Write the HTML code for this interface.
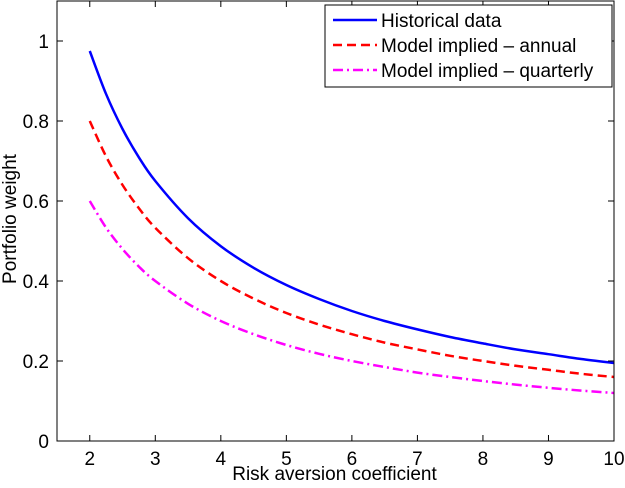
<!DOCTYPE html>
<html><head><meta charset="utf-8"><style>
body{margin:0;background:#fff;}
svg text{font-family:"Liberation Sans",sans-serif;}
</style></head><body>
<svg id="chart" width="625" height="483" xmlns="http://www.w3.org/2000/svg">
<rect x="0" y="0" width="625" height="483" fill="#fff"/>
<g id="plot"></g>
<g id="axes"></g>
</svg>
<script>
const gammas = [2,2.25,2.5,2.75,3,3.5,4,4.5,5,5.5,6,6.5,7,7.5,8,8.5,9,9.5,10];
const historical = [0.975,0.867,0.78,0.709,0.65,0.557,0.487,0.433,0.39,0.355,0.325,0.3,0.279,0.26,0.244,0.229,0.217,0.205,0.195];
const annual = [0.80,0.711,0.64,0.582,0.533,0.457,0.40,0.356,0.32,0.291,0.267,0.246,0.229,0.213,0.20,0.188,0.178,0.168,0.16];
const quarterly = [0.60,0.533,0.48,0.436,0.40,0.343,0.30,0.267,0.24,0.218,0.20,0.185,0.171,0.16,0.15,0.141,0.133,0.126,0.12];
const xTicks = [2,3,4,5,6,7,8,9,10];
const yTicks = [0,0.2,0.4,0.6,0.8,1];
const yTickLabels = ["0","0.2","0.4","0.6","0.8","1"];
const seriesNames = ["Historical data","Model implied \u2013 annual","Model implied \u2013 quarterly"];

const L=57,R=614,T=1,B=441,xMin=1.5,xMax=10,yMin=0,yMax=1.1;
const xs=v=>L+(v-xMin)/(xMax-xMin)*(R-L);
const ys=v=>B-(v-yMin)/(yMax-yMin)*(B-T);
const NS="http://www.w3.org/2000/svg";
const plot=document.getElementById('plot'), axes=document.getElementById('axes');
function mk(tag,attrs,parent){const e=document.createElementNS(NS,tag);for(const k in attrs)e.setAttribute(k,attrs[k]);parent.appendChild(e);return e;}
function smooth(pts){
  let d='M'+pts[0][0]+','+pts[0][1];
  for(let i=0;i<pts.length-1;i++){
    const p0=pts[Math.max(0,i-1)],p1=pts[i],p2=pts[i+1],p3=pts[Math.min(pts.length-1,i+2)];
    const c1=[p1[0]+(p2[0]-p0[0])/6,p1[1]+(p2[1]-p0[1])/6];
    const c2=[p2[0]-(p3[0]-p1[0])/6,p2[1]-(p3[1]-p1[1])/6];
    d+=' C'+c1[0]+','+c1[1]+' '+c2[0]+','+c2[1]+' '+p2[0]+','+p2[1];
  }
  return d;
}
const FS=19;
const styles=[{c:"#0000ff",d:""},{c:"#ff0000",d:"9,5"},{c:"#ff00ff",d:"10,4,2,4"}];
const data=[historical,annual,quarterly];
const lineNames=['historical-data-line','annual-model-line','quarterly-model-line'];
data.forEach((arr,i)=>{
  const p=mk('path',{d:smooth(gammas.map((g,j)=>[xs(g),ys(arr[j])])),fill:'none',stroke:styles[i].c,'stroke-width':2.5,'stroke-dasharray':styles[i].d},plot);
  
  
});
const fr=mk('rect',{x:L,y:T,width:R-L,height:B-T,fill:'none',stroke:'#000','stroke-width':1},axes);


xTicks.forEach(t=>{
  const x=xs(t);
  mk('line',{x1:x,y1:B,x2:x,y2:B-6,stroke:'#000'},axes);
  mk('line',{x1:x,y1:T,x2:x,y2:T+6,stroke:'#000'},axes);
  const tx=mk('text',{x:x,y:B+24,'text-anchor':'middle','font-size':FS},axes);
  tx.textContent=t;
  
  
});
yTicks.forEach((t,i)=>{
  const y=ys(t);
  mk('line',{x1:L,y1:y,x2:L+6,y2:y,stroke:'#000'},axes);
  mk('line',{x1:R,y1:y,x2:R-6,y2:y,stroke:'#000'},axes);
  const tx=mk('text',{x:L-8,y:y+7,'text-anchor':'end','font-size':FS},axes);
  tx.textContent=yTickLabels[i];
  
  
});
const xt=mk('text',{x:(L+R)/2-1,y:480,'text-anchor':'middle','font-size':FS},axes);
xt.textContent='Risk aversion coefficient';


const yt=mk('text',{x:0,y:0,'text-anchor':'middle','font-size':FS,transform:'translate(16,'+((T+B)/2-2)+') rotate(-90)'},axes);
yt.textContent='Portfolio weight';


const lg=mk('g',{},axes);


mk('rect',{x:325,y:5,width:287,height:82,fill:'#fff',stroke:'#000'},lg);
seriesNames.forEach((n,i)=>{
  const y=20+i*25;
  const en=mk('g',{},lg);
  
  
  mk('line',{x1:333,y1:y,x2:377,y2:y,stroke:styles[i].c,'stroke-width':2.5,'stroke-dasharray':styles[i].d},en);
  const t=mk('text',{x:381,y:y+7,'font-size':FS},en);
  t.textContent=n;
});
</script>
</body></html>
